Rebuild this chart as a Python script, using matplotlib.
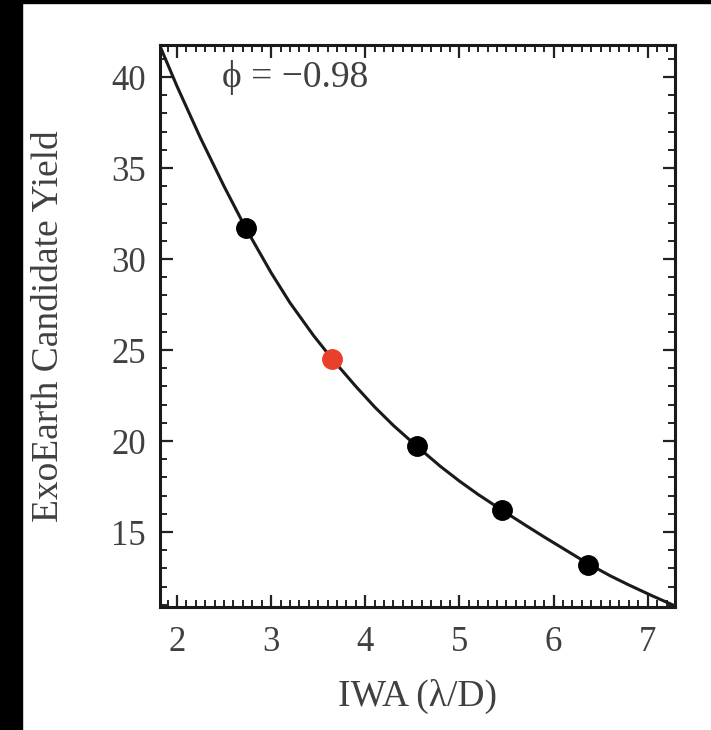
import numpy as np
import matplotlib
matplotlib.use('Agg')
import matplotlib.pyplot as plt
from matplotlib.patches import Rectangle
from matplotlib.ticker import MultipleLocator

# measured yields (markers)
iwa = [2.73, 3.65, 4.55, 5.45, 6.37]
yld = [31.7, 24.5, 19.7, 16.2, 13.2]
colors = ['black', '#e8402a', 'black', 'black', 'black']

# fitted curve
curve_x = [1.82, 2.0, 2.25, 2.5, 2.73, 3.0, 3.2, 3.45, 3.65, 3.9, 4.1, 4.3, 4.55,
           4.8, 5.0, 5.2, 5.45, 5.7, 5.9, 6.1, 6.37, 6.6, 6.8, 7.05, 7.29]
curve_y = [41.7, 39.5, 36.65, 34.0, 31.7, 29.25, 27.6, 25.8, 24.5, 23.0, 21.87, 20.85, 19.7,
           18.6, 17.8, 17.06, 16.21, 15.38, 14.73, 14.1, 13.25, 12.6, 12.09, 11.49, 10.94]

xticks = [2, 3, 4, 5, 6, 7]
yticks = [15, 20, 25, 30, 35, 40]

plt.rcParams['font.family'] = ['Liberation Serif', 'DejaVu Serif']
txt = '#404040'

fig = plt.figure(figsize=(7.11, 7.30), dpi=100)
fig.patch.set_facecolor('white')
# black scan borders
fig.patches.append(Rectangle((0, 0), 22 / 711, 1, transform=fig.transFigure,
                             color='black', zorder=0))
fig.patches.append(Rectangle((0, 1 - 3 / 730), 1, 3 / 730, transform=fig.transFigure,
                             color='black', zorder=0))

ax = fig.add_axes([160 / 711, 123 / 730, 515 / 711, 562 / 730])
ax.plot(curve_x, curve_y, color='#1a1a1a', lw=2.2, zorder=2)
for x, y, c in zip(iwa, yld, colors):
    ax.plot(x, y, 'o', color=c, ms=14, zorder=3)

ax.set_xlim(1.82, 7.29)
ax.set_ylim(10.88, 41.76)
ax.set_xticks(xticks)
ax.set_yticks(yticks)
ax.xaxis.set_minor_locator(MultipleLocator(0.1))
ax.yaxis.set_minor_locator(MultipleLocator(1))
ax.tick_params(which='both', direction='in', top=True, right=True, color='#222222')
ax.tick_params(which='major', length=9, width=1.6, labelsize=25, labelcolor=txt)
ax.tick_params(axis='x', which='major', pad=14)
ax.tick_params(axis='y', which='major', pad=10)
ax.tick_params(which='minor', length=5, width=1.4)
for s in ax.spines.values():
    s.set_linewidth(2.2)
    s.set_color('#1a1a1a')

ax.set_xlabel('IWA (λ/D)', fontsize=27, color=txt, labelpad=14)
ax.set_ylabel('ExoEarth Candidate Yield', fontsize=27, color=txt, labelpad=33)
ax.text(0.12, 0.943, 'ϕ = −0.98', transform=ax.transAxes, fontsize=27,
        color=txt, va='center', ha='left')

fig.savefig('out.png', dpi=100, facecolor='white')
